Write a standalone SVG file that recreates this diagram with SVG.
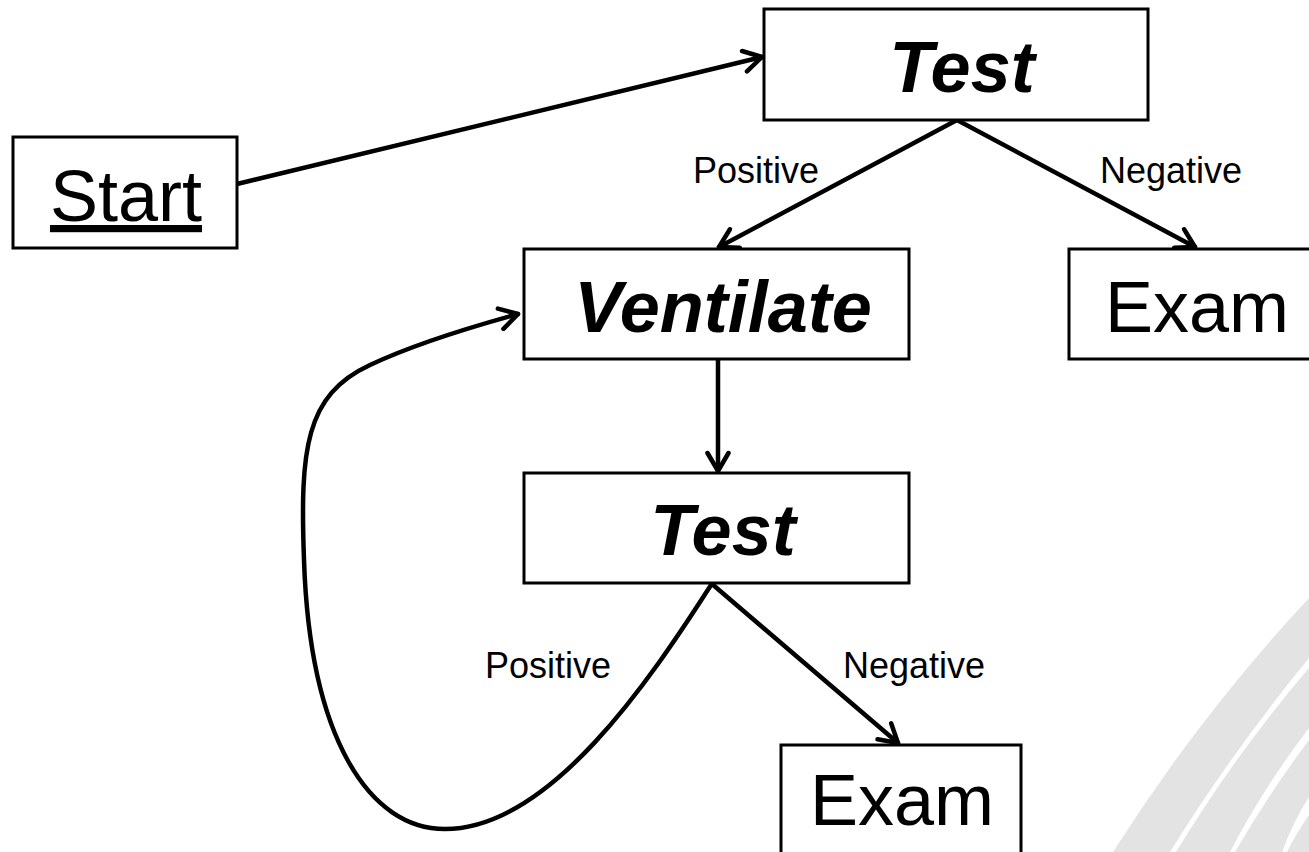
<svg xmlns="http://www.w3.org/2000/svg" width="1309" height="852" viewBox="0 0 1309 852">
  <style>
    .box { fill: #ffffff; stroke: #000000; stroke-width: 3; }
    .edge { fill: none; stroke: #000000; stroke-width: 4.5; stroke-linecap: round; }
    .big { font-family: "Liberation Sans", Arial, sans-serif; font-size: 72px; fill: #000000; text-anchor: middle; }
    .bi { font-weight: bold; font-style: italic; }
    .lbl { font-family: "Liberation Sans", Arial, sans-serif; font-size: 36px; fill: #000000; }
    .band { fill: #e3e3e3; stroke: none; }
  </style>
  <defs>
    <marker id="arr" viewBox="0 0 26 26" refX="22" refY="13" markerWidth="26" markerHeight="26" markerUnits="userSpaceOnUse" orient="auto">
      <path d="M4,2.5 L22,13 L4,23.5" fill="none" stroke="#000000" stroke-width="4.5" stroke-linecap="round" stroke-linejoin="round"/>
    </marker>
  </defs>
  <rect width="1309" height="852" fill="#ffffff"/>
  <g id="background">
    <path class="band" d="M1113,852 Q1200,715 1309,598 L1309,658 Q1232,752 1170,852 Z"/>
    <path class="band" d="M1176,852 Q1237,752 1309,668 L1309,728 Q1264,787 1230,852 Z"/>
    <path class="band" d="M1235,852 Q1270,792 1309,740 L1309,797 Q1293,822 1282,852 Z"/>
    <path class="band" d="M1287,852 Q1297,832 1309,815 L1309,852 Z"/>
  </g>
  <g id="connectors">
    <path class="edge" marker-end="url(#arr)" d="M237,184 L762,57"/>
    <path class="edge" marker-end="url(#arr)" d="M957,120 L719,247"/>
    <path class="edge" marker-end="url(#arr)" d="M957,120 L1195,247"/>
    <path class="edge" marker-end="url(#arr)" d="M718,359 L718,471"/>
    <path class="edge" marker-end="url(#arr)" d="M712,584 L898,743"/>
    <path class="edge" marker-end="url(#arr)" d="M711,585 C650,680 550,829 445,829 C370,829 310,740 304,560 C300,450 305,395 370,365 C410,346 460,330 518,314"/>
    <text class="lbl" x="693" y="183">Positive</text>
    <text class="lbl" x="1100" y="183">Negative</text>
    <text class="lbl" x="485" y="678">Positive</text>
    <text class="lbl" x="843" y="678">Negative</text>
  </g>
  <g id="start">
    <rect class="box" x="13" y="137" width="224" height="111"/>
    <text class="big" x="126" y="221" text-decoration="underline" font-size="74">Start</text>
  </g>
  <g id="test1">
    <rect class="box" x="764" y="9" width="384" height="111"/>
    <text class="big bi" x="962" y="92">Test</text>
  </g>
  <g id="ventilate">
    <rect class="box" x="524" y="249" width="385" height="110"/>
    <text class="big bi" x="723" y="332">Ventilate</text>
  </g>
  <g id="exam1">
    <rect class="box" x="1069" y="249" width="260" height="110"/>
    <text class="big" x="1197" y="332" font-size="70">Exam</text>
  </g>
  <g id="test2">
    <rect class="box" x="524" y="473" width="385" height="110"/>
    <text class="big bi" x="723" y="555">Test</text>
  </g>
  <g id="exam2">
    <rect class="box" x="781" y="745" width="240" height="120"/>
    <text class="big" x="902" y="825" font-size="70">Exam</text>
  </g>
</svg>
